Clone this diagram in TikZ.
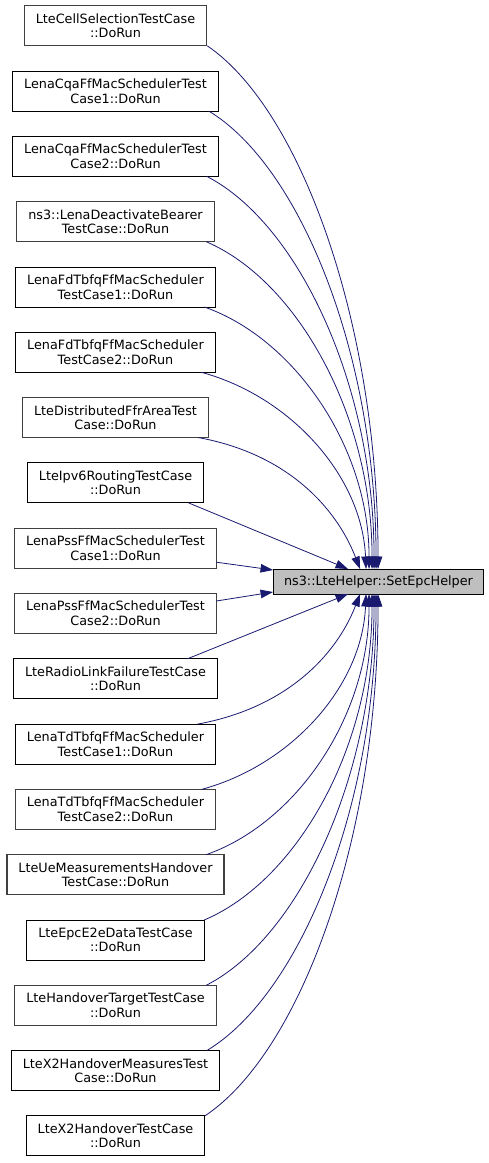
\documentclass[tikz,border=0pt]{standalone}
\usepackage{fontspec}
\setmainfont{DejaVu Sans}
\usetikzlibrary{arrows.meta}
\definecolor{edgeblue}{HTML}{191970}
\definecolor{tgtfill}{HTML}{BFBFBF}
\definecolor{lnkgrey}{HTML}{404040}
\begin{document}
\begin{tikzpicture}[x=1pt,y=-1pt,
  fn/.style={draw=black, line width=1pt, fill=white, align=center, inner xsep=11.5pt, inner ysep=0pt,
             minimum height=40pt, outer sep=0pt, font=\fontsize{12.8}{14.6}\selectfont},
  fg/.style={fn, draw=lnkgrey, line width=1.3pt},
  tgt/.style={draw=black, line width=1pt, fill=tgtfill, inner xsep=11pt, inner ysep=0pt,
              minimum height=25pt, outer sep=0pt, font=\fontsize{12.8}{14.6}\selectfont},
  edge/.style={draw=edgeblue, line width=0.8pt, -{Triangle[length=12.5pt,width=8.5pt]}}]
\useasboundingbox (0,0) rectangle (489,1163);

\node[tgt] (t) at (378.5,581.5) {ns3::LteHelper::SetEpcHelper};

\node[fg] (b1)  at (115.5,25.8)   {LteCellSelectionTestCase\\::DoRun};
\node[fn] (b2)  at (115.5,91.1)   {LenaCqaFfMacSchedulerTest\\Case1::DoRun};
\node[fn] (b3)  at (115.5,156.4)  {LenaCqaFfMacSchedulerTest\\Case2::DoRun};
\node[fg] (b4)  at (115.5,221.7)  {ns3::LenaDeactivateBearer\\TestCase::DoRun};
\node[fn] (b5)  at (115.5,287.0)  {LenaFdTbfqFfMacScheduler\\TestCase1::DoRun};
\node[fn] (b6)  at (115.5,352.3)  {LenaFdTbfqFfMacScheduler\\TestCase2::DoRun};
\node[fg] (b7)  at (115.5,417.6)  {LteDistributedFfrAreaTest\\Case::DoRun};
\node[fn] (b8)  at (115.5,482.9)  {LteIpv6RoutingTestCase\\::DoRun};
\node[fg] (b9)  at (115.5,548.2)  {LenaPssFfMacSchedulerTest\\Case1::DoRun};
\node[fg] (b10) at (115.5,613.5)  {LenaPssFfMacSchedulerTest\\Case2::DoRun};
\node[fn] (b11) at (115.5,678.8)  {LteRadioLinkFailureTestCase\\::DoRun};
\node[fn] (b12) at (115.5,744.1)  {LenaTdTbfqFfMacScheduler\\TestCase1::DoRun};
\node[fg] (b13) at (115.5,809.4)  {LenaTdTbfqFfMacScheduler\\TestCase2::DoRun};
\node[fg] (b14) at (115.5,874.7)  {LteUeMeasurementsHandover\\TestCase::DoRun};
\node[fn] (b15) at (115.5,940.0)  {LteEpcE2eDataTestCase\\::DoRun};
\node[fg] (b16) at (115.5,1005.3) {LteHandoverTargetTestCase\\::DoRun};
\node[fn] (b17) at (115.5,1070.6) {LteX2HandoverMeasuresTest\\Case::DoRun};
\node[fn] (b18) at (115.5,1135.9) {LteX2HandoverTestCase\\::DoRun};

% upper group
\draw[edge] ([xshift=0.5pt]b1.south east) .. controls +(93,63) and +(0,-246) .. ([xshift=105pt]t.north west);
\draw[edge] ([xshift=-9.5pt]b2.south east) .. controls +(91,55) and +(0,-215) .. ([xshift=103pt]t.north west);
\draw[edge] ([xshift=-11.5pt]b3.south east) .. controls +(91,47) and +(0,-185) .. ([xshift=101pt]t.north west);
\draw[edge] ([xshift=-8pt]b4.south east) .. controls +(91,39) and +(0,-154) .. ([xshift=99pt]t.north west);
\draw[edge] ([xshift=-11pt]b5.south east) .. controls +(89,31) and +(0,-123) .. ([xshift=96pt]t.north west);
\draw[edge] ([xshift=-14pt]b6.south east) .. controls +(89,24) and +(-4,-93) .. ([xshift=93pt]t.north west);
\draw[edge] ([xshift=-10pt]b7.south east) .. controls +(88,16) and +(-24,-62) .. ([xshift=87pt]t.north west);
\draw[edge] ([xshift=-15pt]b8.south east) -- ([xshift=75pt]t.north west);
\draw[edge] ([yshift=6pt]b9.south east) -- ([yshift=-1pt]t.north west);
% lower group
\draw[edge] ([yshift=-7.5pt]b10.north east) -- ([yshift=2pt]t.south west);
\draw[edge] ([xshift=-30pt]b11.north east) -- ([xshift=75pt]t.south west);
\draw[edge] ([xshift=-18pt]b12.north east) .. controls +(88,-16) and +(-24,62) .. ([xshift=87pt]t.south west);
\draw[edge] ([xshift=-14pt]b13.north east) .. controls +(89,-24) and +(-4,93) .. ([xshift=93pt]t.south west);
\draw[edge] ([xshift=-18pt]b14.north east) .. controls +(89,-31) and +(0,124) .. ([xshift=96pt]t.south west);
\draw[edge] (b15.north east) .. controls +(92,-39) and +(0,155) .. ([xshift=99pt]t.south west);
\draw[edge] ([xshift=-10pt]b16.north east) .. controls +(92,-47) and +(0,184) .. ([xshift=101pt]t.south west);
\draw[edge] ([xshift=-13pt]b17.north east) .. controls +(92,-55) and +(0,215) .. ([xshift=103pt]t.south west);
\draw[edge] (b18.north east) .. controls +(95,-63) and +(0,246) .. ([xshift=105pt]t.south west);
\end{tikzpicture}
\end{document}
